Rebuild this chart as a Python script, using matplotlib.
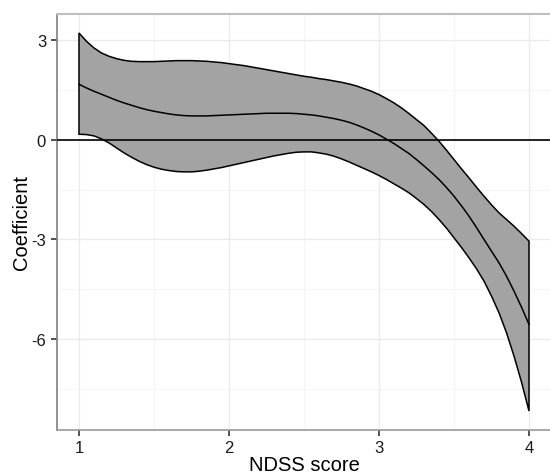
import matplotlib
matplotlib.use("Agg")
import matplotlib.pyplot as plt

plt.rcParams['font.family'] = ['Liberation Sans', 'DejaVu Sans']

ndss = [round(1 + 0.05 * i, 2) for i in range(61)]
coef = [1.66, 1.55, 1.45, 1.36, 1.27, 1.18, 1.10, 1.03, 0.96, 0.90,
        0.85, 0.81, 0.77, 0.74, 0.72, 0.71, 0.71, 0.71, 0.72, 0.73,
        0.74, 0.75, 0.76, 0.77, 0.78, 0.79, 0.79, 0.79, 0.79, 0.78,
        0.76, 0.74, 0.71, 0.67, 0.63, 0.58, 0.52, 0.44, 0.35, 0.25,
        0.14, 0.01, -0.12, -0.27, -0.42, -0.60, -0.79, -0.99, -1.20, -1.44,
        -1.70, -1.99, -2.30, -2.64, -3.00, -3.35, -3.70, -4.10, -4.55, -5.03,
        -5.55]
upper = [3.20, 2.95, 2.75, 2.60, 2.50, 2.43, 2.38, 2.35, 2.34, 2.34,
         2.34, 2.35, 2.36, 2.37, 2.37, 2.37, 2.36, 2.35, 2.33, 2.31,
         2.28, 2.25, 2.22, 2.18, 2.14, 2.10, 2.06, 2.02, 1.98, 1.94,
         1.90, 1.87, 1.83, 1.80, 1.76, 1.72, 1.67, 1.61, 1.53, 1.45,
         1.35, 1.23, 1.10, 0.95, 0.78, 0.60, 0.42, 0.19, -0.05, -0.32,
         -0.60, -0.88, -1.15, -1.43, -1.70, -1.96, -2.20, -2.40, -2.60, -2.82,
         -3.05]
lower = [0.16, 0.15, 0.11, 0.02, -0.10, -0.25, -0.40, -0.53, -0.65, -0.75,
         -0.83, -0.89, -0.93, -0.96, -0.97, -0.97, -0.95, -0.92, -0.88, -0.84,
         -0.79, -0.74, -0.69, -0.64, -0.59, -0.54, -0.49, -0.45, -0.41, -0.38,
         -0.37, -0.37, -0.40, -0.44, -0.50, -0.58, -0.67, -0.77, -0.87, -0.97,
         -1.08, -1.20, -1.33, -1.46, -1.60, -1.77, -1.95, -2.16, -2.40, -2.66,
         -2.95, -3.24, -3.55, -3.88, -4.25, -4.70, -5.20, -5.80, -6.50, -7.28,
         -8.15]
xticks = [1, 2, 3, 4]
yticks = [3, 0, -3, -6]

fig = plt.figure(figsize=(5.5, 4.77), dpi=100)
ax = fig.add_axes([56.5/550, 46/477, 495/550, 416/477])

ax.set_xlim(0.85, 4.15)
ax.set_ylim(-8.72, 3.77)

# grids
for xm in [1.5, 2.5, 3.5]:
    ax.axvline(xm, color='#F5F5F5', lw=0.8, zorder=0)
for ym in [1.5, -1.5, -4.5, -7.5]:
    ax.axhline(ym, color='#F5F5F5', lw=0.8, zorder=0)
ax.set_xticks(xticks)
ax.set_yticks(yticks)
ax.grid(True, which='major', color='#EBEBEB', lw=1.0, zorder=0)
ax.set_axisbelow(True)

poly = list(zip(ndss, upper)) + list(zip(ndss[::-1], lower[::-1]))
ax.fill(*zip(*poly), facecolor='#A3A3A3', edgecolor='black', lw=1.1, zorder=2)
ax.axhline(0, color='black', lw=1.2, zorder=3)
ax.plot(ndss, coef, color='black', lw=1.1, zorder=4)

ax.spines['top'].set_color('#BEBEBE')
ax.spines['top'].set_linewidth(1.5)
ax.spines['right'].set_visible(False)
ax.spines['left'].set_color('#7F7F7F')
ax.spines['bottom'].set_color('#999999')
ax.spines['left'].set_linewidth(1.2)
ax.spines['bottom'].set_linewidth(1.2)

ax.tick_params(axis='both', length=4.5, width=1.2, color='#333333', labelsize=12,
               labelcolor='#1a1a1a', pad=3)
ax.set_xticklabels([str(v) for v in xticks])
ax.set_yticklabels([str(v) for v in yticks])

ax.set_xlabel('NDSS score', fontsize=14.5)
ax.set_ylabel('Coefficient', fontsize=14.5)
ax.xaxis.set_label_coords(0.5, -0.061)
ax.yaxis.set_label_coords(-0.052, 0.5)

fig.savefig('out.png', dpi=100)
